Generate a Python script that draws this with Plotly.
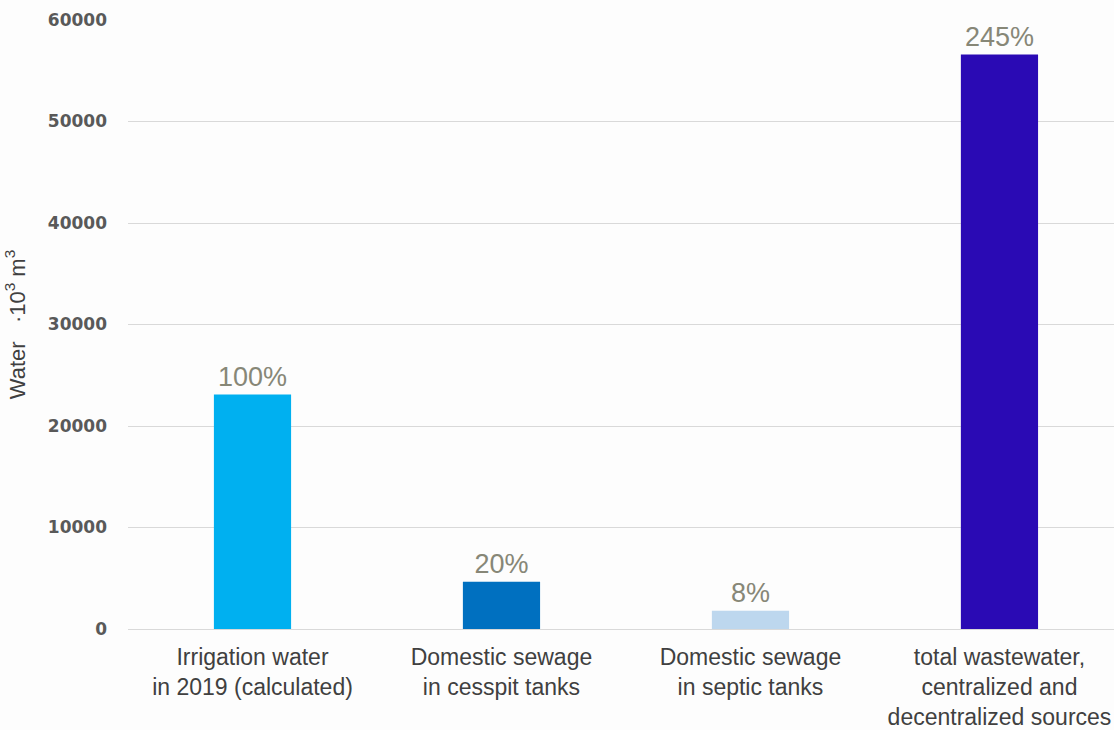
import plotly.graph_objects as go

categories = ["Irrigation water<br>in 2019 (calculated)",
              "Domestic sewage<br>in cesspit tanks",
              "Domestic sewage<br>in septic tanks",
              "total wastewater,<br>centralized and<br>decentralized sources"]
values = [23100, 4650, 1800, 56600]
pct_labels = ["100%", "20%", "8%", "245%"]
bar_colors = ["#00b0f0", "#0070c0", "#bdd7ee", "#2a0ab4"]
y_ticks = [0, 10000, 20000, 30000, 40000, 50000, 60000]

fig = go.Figure(go.Bar(
    x=list(range(len(categories))),
    y=values,
    marker=dict(color=bar_colors, line=dict(width=0)),
    width=0.31,
    text=pct_labels,
    textposition="outside",
    textfont=dict(family="Liberation Sans, Arial", size=27, color="#878777"),
    cliponaxis=False,
))

fig.update_layout(
    width=1114, height=730,
    margin=dict(l=128, r=0, t=20, b=101),
    paper_bgcolor="#fdfdfd", plot_bgcolor="#fdfdfd",
    showlegend=False,
)
fig.update_xaxes(
    tickmode="array",
    tickvals=list(range(len(categories))),
    ticktext=categories,
    range=[-0.5, 3.46],
    tickfont=dict(family="Liberation Sans, Arial", size=23, color="#404040"),
    showgrid=False, zeroline=False, showline=False,
    ticks="", ticklabelstandoff=12,
)
fig.update_yaxes(
    range=[0, 60000],
    tickmode="array",
    tickvals=y_ticks,
    ticktext=[str(v) for v in y_ticks],
    tickfont=dict(family="DejaVu Sans", size=17, color="#595959", weight="bold"),
    showgrid=True, gridcolor="#d9d9d9", gridwidth=1.3,
    zeroline=True, zerolinecolor="#d9d9d9", zerolinewidth=1.3,
    showline=False, ticks="", ticklabelstandoff=20,
    title=dict(text="Water\u00a0\u00a0\u00a0·10<sup>3</sup>\u00a0m<sup>3</sup>",
               font=dict(family="Liberation Sans, Arial", size=22, color="#404040"),
               standoff=16),
)

fig.write_html("out.html")
